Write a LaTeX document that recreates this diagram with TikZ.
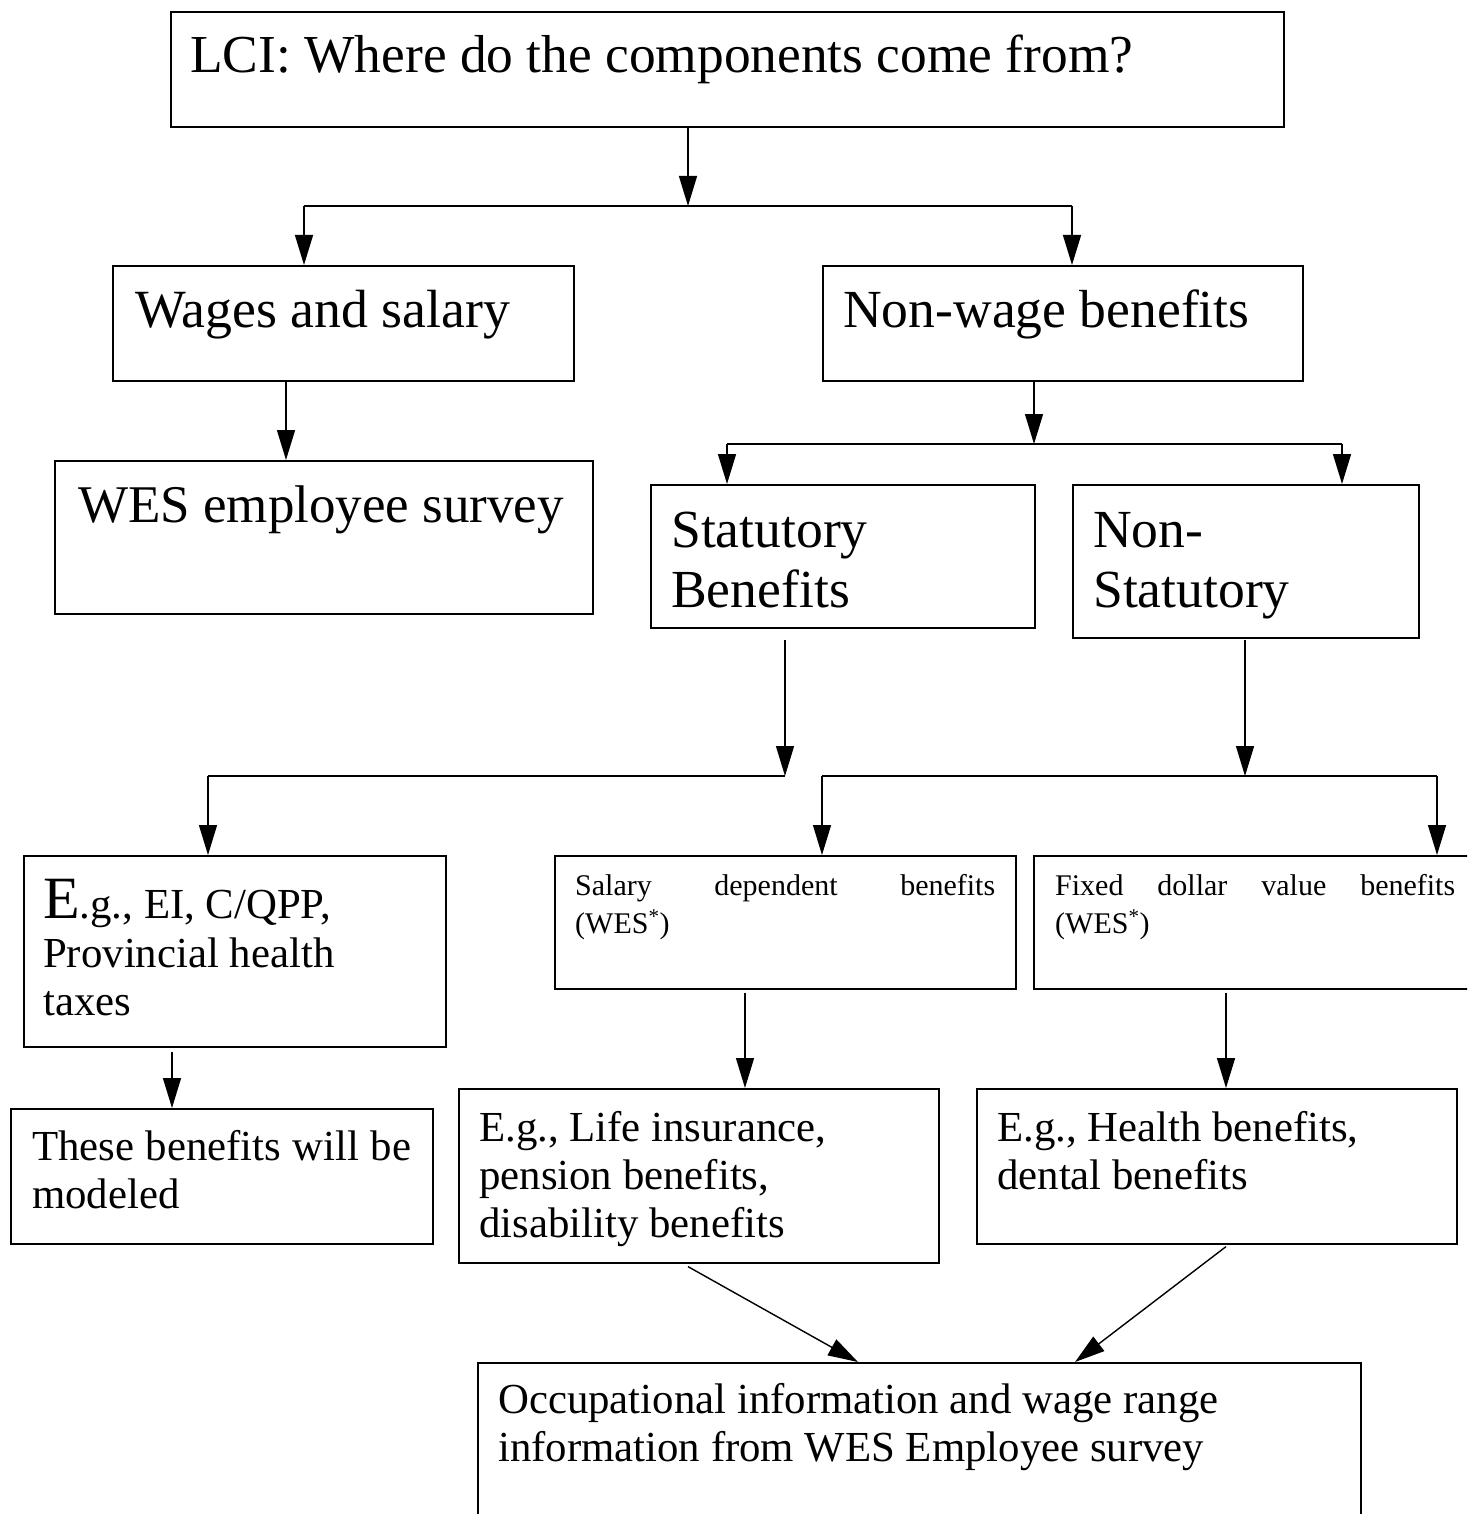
\documentclass[tikz,border=0pt]{standalone}
\usepackage{fontspec}
\setmainfont{Liberation Serif}
\usetikzlibrary{arrows.meta}
\newcommand{\fsz}[1]{\fontsize{#1}{#1}\selectfont}
\begin{document}
\begin{tikzpicture}[x=1pt,y=-1pt,
  box/.style={draw,line width=1.6pt,inner sep=0pt,anchor=north west},
  txt/.style={anchor=base west,inner sep=0pt},
  arr/.style={line width=1.4pt,-{Triangle[length=30pt,width=18pt]}},
  ln/.style={line width=1.4pt}]
\useasboundingbox (0,0) rectangle (1467,1514);
\clip (0,0) rectangle (1467,1514);
\fill[white] (0,0) rectangle (1467,1514);
% boxes
\node[box,minimum width=1113pt,minimum height=115pt] (t) at (170,11) {};
\node[box,minimum width=461pt,minimum height=115pt] (w) at (112,265) {};
\node[box,minimum width=480pt,minimum height=115pt] (n) at (822,265) {};
\node[box,minimum width=538pt,minimum height=153pt] (wes) at (54,460) {};
\node[box,minimum width=384pt,minimum height=143pt] (st) at (650,484) {};
\node[box,minimum width=346pt,minimum height=153pt] (ns) at (1072,484) {};
\node[box,minimum width=422pt,minimum height=191pt] (eg) at (23,855) {};
\node[box,minimum width=461pt,minimum height=133pt] (sal) at (554,855) {};
\node[box,minimum width=480pt,minimum height=133pt] (fix) at (1033,855) {};
\node[box,minimum width=422pt,minimum height=135pt] (mod) at (10,1108) {};
\node[box,minimum width=480pt,minimum height=174pt] (life) at (458,1088) {};
\node[box,minimum width=480pt,minimum height=155pt] (hl) at (976,1088) {};
\node[box,minimum width=883pt,minimum height=200pt] (occ) at (477,1362) {};
% texts
\node[txt] (t1) at (190,73) {\fsz{53.4}LCI: Where do the components come from?};
\node[txt] (w1) at (135,327) {\fsz{53.8}Wages and salary};
\node[txt] (n1) at (843,327) {\fsz{53.6}Non-wage benefits};
\node[txt] (wes1) at (78,522) {\fsz{53}WES employee survey};
\node[txt] (st1) at (671,547) {\fsz{53.6}Statutory};
\node[txt] (st2) at (671,607) {\fsz{53.6}Benefits};
\node[txt] (ns1) at (1093,547) {\fsz{53.6}Non-};
\node[txt] (ns2) at (1093,607) {\fsz{53.6}Statutory};
\node[txt] (eg1) at (43,918) {{\fsz{60}E}\fsz{42.8}.g., EI, C/QPP,};
\node[txt] (eg2) at (43,967) {\fsz{42.8}Provincial health};
\node[txt] (eg3) at (43,1015) {\fsz{42.8}taxes};
\node[txt] (sal1) at (575,895) {\fsz{30}\makebox[420pt][s]{Salary\hfill dependent\hfill benefits}};
\node[txt] (sal2) at (575,933) {\fsz{30}(WES\textsuperscript{*})};
\node[txt] (fix1) at (1055,895) {\fsz{30}\makebox[400pt][s]{Fixed\hfill dollar\hfill value\hfill benefits}};
\node[txt] (fix2) at (1055,933) {\fsz{30}(WES\textsuperscript{*})};
\node[txt] (mod1) at (32,1160) {\fsz{42.8}\makebox[379pt][s]{These\hfill benefits\hfill will\hfill be}};
\node[txt] (mod2) at (32,1208) {\fsz{42.8}modeled};
\node[txt] (life1) at (479,1141) {\fsz{42.8}E.g., Life insurance,};
\node[txt] (life2) at (479,1189) {\fsz{42.8}pension benefits,};
\node[txt] (life3) at (479,1237) {\fsz{42.8}disability benefits};
\node[txt] (hl1) at (997,1141) {\fsz{42.8}E.g., Health benefits,};
\node[txt] (hl2) at (997,1189) {\fsz{42.8}dental benefits};
\node[txt] (occ1) at (498,1413) {\fsz{42.8}Occupational information and wage range};
\node[txt] (occ2) at (498,1461) {\fsz{42.8}information from WES Employee survey};
% junctions
\coordinate (j1) at (688,206);
\coordinate (j1L) at (304,206);
\coordinate (j1R) at (1072,206);
\coordinate (j2) at (1034,444);
\coordinate (j2L) at (727,444);
\coordinate (j2R) at (1342,444);
\coordinate (s0) at (785,640);
\coordinate (j3) at (785,776);
\coordinate (j3L) at (208,776);
\coordinate (q0) at (1245,640);
\coordinate (j4) at (1245,776);
\coordinate (j4L) at (822,776);
\coordinate (j4R) at (1437,776);
% connectors
\draw[arr] (t.south -| j1) -- (j1);
\draw[ln] (j1L) -- (j1R);
\draw[arr] (j1L) -- (w.north -| j1L);
\draw[arr] (j1R) -- (n.north -| j1R);
\draw[arr] (w.south -| 286,0) -- (wes.north -| 286,0);
\draw[arr] (n.south -| j2) -- (j2);
\draw[ln] (j2L) -- (j2R);
\draw[arr] (j2L) -- (st.north -| j2L);
\draw[arr] (j2R) -- (ns.north -| j2R);
\draw[arr] (s0) -- (j3);
\draw[ln] (j3L) -- (j3);
\draw[arr] (j3L) -- (eg.north -| j3L);
\draw[arr] (q0) -- (j4);
\draw[ln] (j4L) -- (j4R);
\draw[arr] (j4L) -- (sal.north -| j4L);
\draw[arr] (j4R) -- (fix.north -| j4R);
\draw[arr] ([yshift=-4pt]eg.south -| 172,0) -- (mod.north -| 172,0);
\draw[arr] ([yshift=-3pt]sal.south -| 745,0) -- (life.north -| 745,0);
\draw[arr] ([yshift=-3pt]fix.south -| 1226,0) -- (hl.north -| 1226,0);
\draw[arr] ([yshift=-3pt]life.south -| 688,0) -- (occ.north -| 858,0);
\draw[arr] ([yshift=-2pt]hl.south -| 1226,0) -- (occ.north -| 1075,0);
\end{tikzpicture}
\end{document}
